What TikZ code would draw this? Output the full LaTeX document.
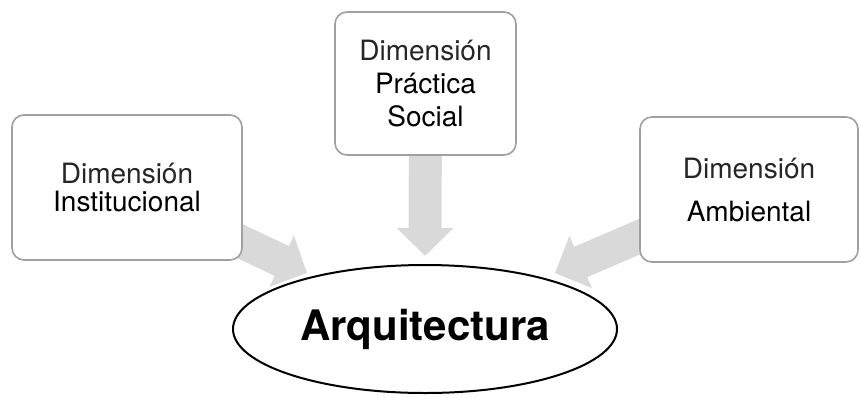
\documentclass[tikz,border=0pt]{standalone}
\usepackage{fontspec}
\setmainfont{TeX Gyre Heros}
\usetikzlibrary{shapes.geometric,arrows.meta}
\pgfdeclarelayer{background}
\pgfsetlayers{background,main}
\definecolor{boxgray}{HTML}{A0A0A0}
\definecolor{arrowgray}{HTML}{D9D9D9}
\begin{document}
\begin{tikzpicture}[x=0.5pt,y=-0.5pt]
			\tikzset{dimbox/.style={draw=boxgray, line width=0.8pt, fill=white, rounded corners=6pt, align=center, inner sep=0pt},
				fatarrow/.style={draw=arrowgray, line width=16.5pt, -{Triangle[width=27.5pt,length=14pt]}}}
			\useasboundingbox (0,0) rectangle (860,396);

			% Dimension boxes
			\node[dimbox, minimum width=115pt, minimum height=72.5pt, font=\fontsize{14}{14}\selectfont] (inst) at (127,187.5)
				{{\color{black!85}Dimensión}\\Institucional};
			\node[dimbox, minimum width=90.5pt, minimum height=71.5pt, font=\fontsize{14}{16.5}\selectfont] (prac) at (425.5,83.5)
				{{\color{black!85}Dimensión}\\Práctica\\Social};
			\node[dimbox, minimum width=109pt, minimum height=72.5pt, font=\fontsize{14}{21.5}\selectfont] (amb) at (749,189.5)
				{{\color{black!85}Dimensión}\\Ambiental};

			% Centre ellipse
			\node[ellipse, draw, line width=1pt, fill=white, minimum width=192pt, minimum height=64pt, inner sep=0pt,
				font=\fontsize{21}{24}\selectfont\bfseries] (arq) at (425,329) {Arquitectura};

			% Grey arrows, behind the boxes
			\begin{pgfonlayer}{background}
				\draw[fatarrow, shorten >=3.5pt] (inst.center) -- (arq);
				\draw[fatarrow, shorten >=4pt] (prac.center) -- (arq.north);
				\draw[fatarrow, shorten >=6pt] (amb.center) -- (arq);
			\end{pgfonlayer}
\end{tikzpicture}
\end{document}
